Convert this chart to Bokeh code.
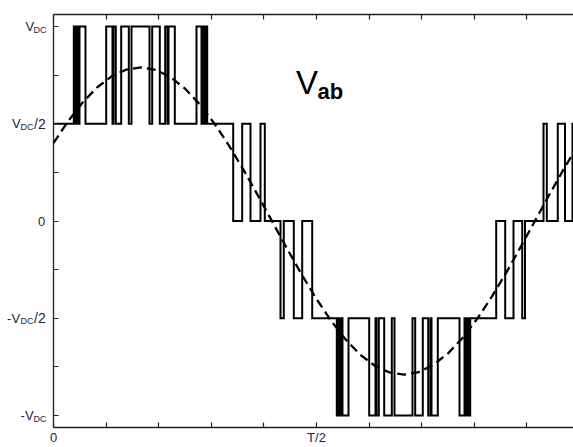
from bokeh.plotting import figure
from bokeh.models import Range1d, FixedTicker, LinearAxis, Label
from bokeh.embed import file_html
from bokeh.resources import INLINE

# ---- data (electrical angle in degrees, T = 360) ----
# switching instants of the 5-level line voltage and the level held after each instant (in units of V_DC)
sw_angle = [0, 13.9, 14.85, 15.74, 17.11, 17.79, 21.9,
            36.07, 40.38, 41.06, 42.64,
            46.33, 51.54, 53.38, 65.70,
            67.55, 72.75, 76.45, 78.02, 78.71, 83.02,
            97.87, 101.29, 101.98, 103.35, 104.24, 105.19,
            122.99, 129.15, 134.83, 141.67, 144.62,
            155.36, 157.62, 164.46, 170.21, 177.06,
            193.9, 194.85, 195.74, 197.11, 197.79, 201.9,
            216.07, 220.38, 221.06, 222.64,
            226.33, 231.54, 233.38, 245.70,
            247.55, 252.75, 256.45, 258.02, 258.71, 263.02,
            277.87, 281.29, 281.98, 283.35, 284.24, 285.19,
            302.99, 309.15, 314.83, 320.8, 322.7,
            335.36, 337.62, 345.14, 350.07, 355.2,
            360]
sw_level = [0.5, 1, 0.5, 1, 0.5, 1, 0.5,
            1, 0.5, 1, 0.5,
            1, 0.5, 1, 0.5,
            1, 0.5, 1, 0.5, 1, 0.5,
            1, 0.5, 1, 0.5, 1, 0.5,
            0, 0.5, 0, 0.5, 0,
            -0.5, 0, -0.5, 0, -0.5,
            -1, -0.5, -1, -0.5, -1, -0.5,
            -1, -0.5, -1, -0.5,
            -1, -0.5, -1, -0.5,
            -1, -0.5, -1, -0.5, -1, -0.5,
            -1, -0.5, -1, -0.5, -1, -0.5,
            0, -0.5, 0, -0.5, 0,
            0.5, 0, 0.5, 0, 0.5,
            0.5]

# fundamental (dashed) read every 10 degrees
fund_angle = [0, 10, 20, 30, 40, 50, 60, 70, 80, 90, 100, 110, 120, 130, 140, 150, 160, 170, 180,
              190, 200, 210, 220, 230, 240, 250, 260, 270, 280, 290, 300, 310, 320, 330, 340, 350, 360]
fund_value = [0.401, 0.513, 0.610, 0.688, 0.745, 0.779, 0.790, 0.777, 0.740, 0.681, 0.601, 0.503,
              0.389, 0.264, 0.130, -0.007, -0.144, -0.277, -0.401,
              -0.513, -0.610, -0.688, -0.745, -0.779, -0.790, -0.777, -0.740, -0.681, -0.601, -0.503,
              -0.389, -0.264, -0.130, 0.007, 0.144, 0.277, 0.401]

x_ticks = [0, 36, 72, 108, 144, 180, 216, 252, 288, 324, 360]
x_tick_labels = {0: "0", 180: "T/2"}
y_ticks = [-1, -0.75, -0.5, -0.25, 0, 0.25, 0.5, 0.75, 1]

FONT = "Liberation Sans"
TXT = "#1e1e3c"
AX = "#222222"

W, H = 573, 447
PPD = 526 / 360.0            # pixels per degree of the reference
X0 = -53 / PPD               # room on the left of the vertical axis for its labels
X1 = X0 + W / PPD

p = figure(width=W, height=H, output_backend="svg", toolbar_location=None,
           x_range=Range1d(X0, X1), y_range=Range1d(-1.062, 1.062),
           x_axis_type=None, y_axis_type=None,
           min_border_left=0, min_border_right=0, min_border_top=14, min_border_bottom=0)
p.outline_line_color = None
p.background_fill_color = "white"
p.border_fill_color = "white"

xt = FixedTicker(ticks=x_ticks, minor_ticks=[])
yt = FixedTicker(ticks=y_ticks, minor_ticks=[])

def style(ax):
    ax.axis_line_color = AX
    ax.axis_line_width = 1.3
    ax.major_tick_line_color = AX
    ax.major_tick_line_width = 1.2
    ax.major_tick_in = 5
    ax.major_tick_out = 0
    ax.minor_tick_in = 0
    ax.minor_tick_out = 0

overrides = {t: "" for t in x_ticks}
overrides.update(x_tick_labels)
bottom = LinearAxis(ticker=xt, major_label_overrides=overrides, bounds=(0, 400),
                    major_label_text_font=FONT, major_label_text_font_size="13px",
                    major_label_text_color=TXT, major_label_standoff=2)
style(bottom)
p.add_layout(bottom, "below")

top = LinearAxis(ticker=xt, bounds=(0, 400), major_label_overrides={t: "" for t in x_ticks},
                 major_label_text_font_size="1px", major_label_standoff=0)
style(top)
p.add_layout(top, "above")

left = LinearAxis(ticker=yt, fixed_location=0, major_label_overrides={t: "" for t in y_ticks},
                  major_label_text_font_size="1px", major_label_standoff=0)
style(left)
p.add_layout(left, "left")

# waveform and fundamental
p.step(sw_angle, sw_level, mode="after", line_color="black", line_width=2, line_join="miter")
p.line(fund_angle, fund_value, line_color="black", line_width=2.3, line_dash="9 5")

# y tick labels with subscripts (pieces: text, level, x offset px, font px, subscript?)
pieces = [
    ("V", 1, -28, 13, False), ("DC", 1, -20, 9, True),
    ("V", 0.5, -41.5, 13, False), ("DC", 0.5, -33, 9, True), ("/2", 0.5, -19.5, 14, False),
    ("-", -0.5, -46.5, 13, False), ("V", -0.5, -42, 13, False), ("DC", -0.5, -33, 9, True), ("/2", -0.5, -19.5, 14, False),
    ("-", -1, -33, 13, False), ("V", -1, -28.5, 13, False), ("DC", -1, -20, 9, True),
]
for txt, lev, dx, fs, sub in pieces:
    p.add_layout(Label(x=0, y=lev - (0.016 if sub else 0), x_offset=dx, text=txt,
                       text_font=FONT, text_font_size=f"{fs}px", text_color=TXT,
                       text_align="left", text_baseline="middle"))
p.add_layout(Label(x=0, y=0, x_offset=-12, text="0", text_font=FONT, text_font_size="13px",
                   text_color=TXT, text_align="center", text_baseline="middle"))

# V_ab annotation
p.add_layout(Label(x=166.0, y=0.71, text="V", text_font=FONT, text_font_size="33px",
                   text_color="black", text_align="left", text_baseline="middle"))
p.add_layout(Label(x=180.7, y=0.665, text="ab", text_font=FONT, text_font_size="22px",
                   text_font_style="bold", text_color="black", text_align="left",
                   text_baseline="middle"))

open("out.html", "w").write(file_html(p, INLINE))
